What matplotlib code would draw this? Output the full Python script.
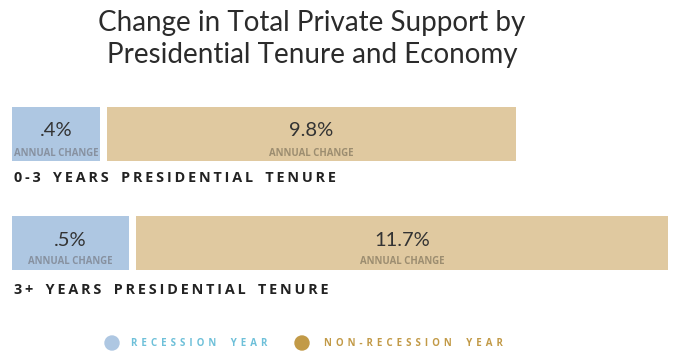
import matplotlib
matplotlib.use("Agg")
import matplotlib.pyplot as plt
from matplotlib.patches import Circle

# values shown on the chart
groups = ["0-3 YEARS PRESIDENTIAL TENURE", "3+ YEARS PRESIDENTIAL TENURE"]
recession_pct = [".4%", ".5%"]
nonrecession_pct = ["9.8%", "11.7%"]
# drawn segment lengths (not proportional to values in the original design)
recession_len = [88, 117]
nonrecession_len = [409, 532]
legend_labels = ["RECESSION YEAR", "NON-RECESSION YEAR"]

BLUE = "#aec7e2"
TAN = "#e0c9a0"
LEG_BLUE = "#6ec0d9"
LEG_TAN = "#c29a47"
GAP = 7


def spaced(s, sep="\u2009"):
    return sep.join(s).replace(sep + " " + sep, sep * 3 + " ")


fig = plt.figure(figsize=(6.83, 3.57), dpi=100)
ax = fig.add_axes([0, 0, 1, 1])
ax.set_xlim(0, 683)
ax.set_ylim(357, 0)
ax.axis("off")

fig.text(312 / 683, 1 - 39 / 357,
         "Change in Total Private Support by\nPresidential Tenure and Economy",
         ha="center", va="center", fontsize=20, family="Lato",
         color="#2b2b2b", linespacing=1.3)

row_top = [107, 216]
label_y = [178, 290]
bar_h = 54
for i, g in enumerate(groups):
    y = row_top[i] + bar_h / 2
    ax.barh(y, recession_len[i], left=12, height=bar_h, color=BLUE)
    left2 = 12 + recession_len[i] + GAP
    ax.barh(y, nonrecession_len[i], left=left2, height=bar_h, color=TAN)

    cx1 = 12 + recession_len[i] / 2
    cx2 = left2 + nonrecession_len[i] / 2
    for cx, val, sub in [(cx1, recession_pct[i], "#8791a0"),
                         (cx2, nonrecession_pct[i], "#9c8d70")]:
        ax.text(cx, row_top[i] + 24, val, ha="center", va="center",
                fontsize=14.5, family="Lato", color="#333333")
        ax.text(cx, row_top[i] + 46, "ANNUAL CHANGE", ha="center", va="center",
                fontsize=6.9, family="Open Sans", weight="bold", color=sub)

    ax.text(14, label_y[i], spaced(g), ha="left", va="center",
            fontsize=10.4, family="Open Sans", weight="bold", color="#222222")

# legend
for cx, col, tx, lab in [(112, BLUE, 131, legend_labels[0]),
                         (302, LEG_TAN, 324, legend_labels[1])]:
    ax.add_patch(Circle((cx, 343), 7, color=col, transform=ax.transData))
    tcol = LEG_BLUE if col == BLUE else LEG_TAN
    ax.text(tx, 344, spaced(lab, "\u2009\u2009"), ha="left", va="center",
            fontsize=7, family="Open Sans", weight="bold", color=tcol)

fig.savefig("out.png", dpi=100)
